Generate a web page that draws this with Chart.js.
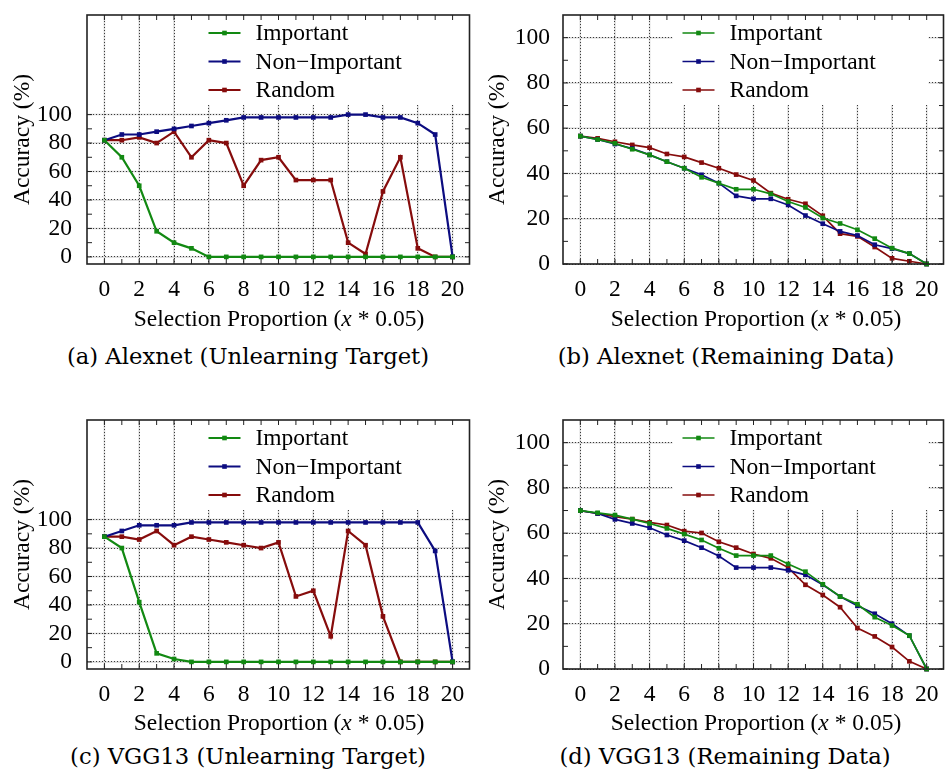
<!DOCTYPE html>
<html>
<head>
<meta charset="utf-8">
<script src="https://cdn.jsdelivr.net/npm/chart.js@4.4.0/dist/chart.umd.min.js"></script>
<style>
body{margin:0;background:#fff;}
#fig{position:relative;width:948px;height:774px;overflow:hidden;background:#fff;}
canvas{position:absolute;}
.xt{position:absolute;font-family:"Liberation Serif";font-size:23.5px;white-space:nowrap;transform:translate(-50%,-50%);color:#000;}
.cap{position:absolute;font-family:"DejaVu Serif";font-size:22.7px;white-space:nowrap;transform:translate(-50%,-50%);color:#000;}
</style>
</head>
<body>
<div id="fig">
<canvas id="ca" width="474" height="335" style="left:0;top:0"></canvas>
<canvas id="cb" width="474" height="335" style="left:474px;top:0"></canvas>
<canvas id="cc" width="474" height="335" style="left:0;top:405px"></canvas>
<canvas id="cd" width="474" height="335" style="left:474px;top:405px"></canvas>
<div class="xt" style="left:279px;top:318px">Selection Proportion (<i>x</i> * 0.05)</div>
<div class="xt" style="left:756px;top:318px">Selection Proportion (<i>x</i> * 0.05)</div>
<div class="xt" style="left:279px;top:722px">Selection Proportion (<i>x</i> * 0.05)</div>
<div class="xt" style="left:756px;top:722px">Selection Proportion (<i>x</i> * 0.05)</div>
<div class="cap" style="left:248px;top:356px">(a) Alexnet (Unlearning Target)</div>
<div class="cap" style="left:726px;top:356px">(b) Alexnet (Remaining Data)</div>
<div class="cap" style="left:248px;top:756px">(c) VGG13 (Unlearning Target)</div>
<div class="cap" style="left:725px;top:756px">(d) VGG13 (Remaining Data)</div>
</div>
<script>
// selection proportion steps
var xVals=[0,1,2,3,4,5,6,7,8,9,10,11,12,13,14,15,16,17,18,19,20];
var xTickVals=[0,2,4,6,8,10,12,14,16,18,20];
var yTickVals=[0,20,40,60,80,100];
var yMinorVals=[0,10,20,30,40,50,60,70,80,90,100];
var seriesLabels=["Important","Non\u2212Important","Random"];
var seriesColors=["#128912","#0c0c80","#860c0c"];

////////// (a) alexnet, unlearning target //////////
var alexTargetImp=[82,70,50,18,10,6,0,0,0,0,0,0,0,0,0,0,0,0,0,0,0];
var alexTargetNon=[82,86,86,88,90,92,94,96,98,98,98,98,98,98,100,100,98,98,94,86,0];
var alexTargetRand=[82,82,84,80,88,70,82,80,50,68,70,54,54,54,10,2,46,70,6,0,0];
////////// (b) alexnet, remaining data //////////
var alexRemainImp=[56.5,55,53.3,50.7,48.2,45.2,42.3,38.3,35.7,33,33,31,27.6,25,20.3,17.9,15.1,11.2,7,4.6,0];
var alexRemainNon=[56.5,55,53,51,48.2,45.2,42.3,39.4,35.7,30.1,28.8,28.8,26.1,21.4,17.8,14.4,12.6,8.5,6.8,4.6,0];
var alexRemainRand=[56.5,55.5,54,52.6,51.4,48.6,47.3,44.8,42.3,39.5,36.9,31.3,28.6,26.6,21.3,13.4,12.2,7.5,2.5,1.2,0];
////////// (c) vgg13, unlearning target //////////
var vggTargetImp=[88,80,42,6,2,0,0,0,0,0,0,0,0,0,0,0,0,0,0,0,0];
var vggTargetNon=[88,92,96,96,96,98,98,98,98,98,98,98,98,98,98,98,98,98,98,78,0];
var vggTargetRand=[88,88,86,92,82,88,86,84,82,80,84,46,50,18,92,82,32,0,0,0,0];
////////// (d) vgg13, remaining data //////////
var vggRemainImp=[70,69,68,66.2,64.3,62.1,59.6,57,53.3,50.1,50.1,50.1,46.4,43,37.4,32,28.6,22.9,19.2,14.8,0];
var vggRemainNon=[70,68.7,66.1,64.3,62.4,59.2,56.7,53.6,49.9,44.8,44.8,44.8,43.6,41.6,37.2,32,27.9,24.4,20,14.7,0];
var vggRemainRand=[70,68.7,67.3,66.2,64.8,63.6,60.9,60.1,56.2,53.6,50.8,48.9,44.8,37.2,32.7,27.3,18.1,14.4,9.7,3.4,0];

Chart.defaults.font.family="Liberation Serif";
Chart.defaults.font.size=23.5;
Chart.defaults.color="#000";

function seg(ctx,x1,y1,x2,y2){
  ctx.beginPath();ctx.moveTo(x1,y1);ctx.lineTo(x2,y2);ctx.stroke();
}

// frame, tick marks, gray under-grid and the boxed legend
var framePlugin={
  id:"frame",
  beforeDraw(chart){
    const ctx=chart.ctx,a=chart.chartArea,x=chart.scales.x,y=chart.scales.y;
    ctx.save();
    ctx.strokeStyle="#d6d6d6";ctx.lineWidth=1.5;
    xTickVals.forEach(v=>{const p=x.getPixelForValue(v);seg(ctx,p,a.top,p,a.bottom);});
    yTickVals.forEach(v=>{const p=y.getPixelForValue(v);seg(ctx,a.left,p,a.right,p);});
    ctx.restore();
  },
  beforeDatasetsDraw(chart){
    const ctx=chart.ctx,a=chart.chartArea;
    ctx.save();
    ctx.fillStyle="#fff";
    ctx.fillRect(a.right-15.5-256,a.top+1,256,89);
    ctx.restore();
  },
  afterDatasetsDraw(chart,args,opts){
    const ctx=chart.ctx,a=chart.chartArea,x=chart.scales.x,y=chart.scales.y;
    const bx=a.right-15.5-256;
    ctx.save();
    // legend
    chart.data.datasets.forEach((ds,i)=>{
      const ly=a.top+18+i*28.5;
      ctx.strokeStyle=ds.borderColor;ctx.lineWidth=opts.lw;
      seg(ctx,bx+10,ly,bx+42,ly);
      ctx.fillStyle=ds.borderColor;
      ctx.fillRect(bx+26-2.3,ly-2.3,4.6,4.6);
      ctx.fillStyle="#000";
      ctx.font="23.5px 'Liberation Serif'";
      ctx.textBaseline="middle";ctx.textAlign="left";
      ctx.fillText(ds.label,bx+57,ly+1);
    });
    // tick marks
    ctx.strokeStyle="#222";ctx.lineWidth=1;
    xVals.forEach(v=>{
      const p=x.getPixelForValue(v);
      seg(ctx,p,a.top,p,a.top+5);
      seg(ctx,p,a.bottom,p,a.bottom-5);
    });
    yMinorVals.forEach(v=>{
      const p=y.getPixelForValue(v);
      seg(ctx,a.left,p,a.left+5,p);
      seg(ctx,a.right,p,a.right-5,p);
    });
    ctx.lineWidth=1.6;
    ctx.strokeRect(a.left,a.top,a.right-a.left-0.5,a.bottom-a.top);
    ctx.restore();
  }
};

function noPad(s){
  s.paddingTop=0;s.paddingBottom=0;s.paddingLeft=0;s.paddingRight=0;
}

function makeChart(id,series,cfg){
  const ctx=document.getElementById(id);
  const datasets=series.map((arr,i)=>({
    label:seriesLabels[i],
    data:xVals.map((v,k)=>({x:v,y:arr[k]})),
    borderColor:seriesColors[i],
    backgroundColor:seriesColors[i],
    borderWidth:cfg.lw,
    pointStyle:"rect",
    pointRadius:3.3,
    pointBorderWidth:0,
    tension:0,
    clip:false
  }));
  return new Chart(ctx,{
    type:"line",
    data:{datasets:datasets},
    options:{
      responsive:false,
      animation:false,
      devicePixelRatio:1,
      layout:{padding:{left:0,top:15,right:cfg.padRight,bottom:0}},
      plugins:{legend:{display:false},tooltip:{enabled:false},frame:{lw:cfg.lw}},
      scales:{
        x:{
          type:"linear",min:-1,max:21,
          afterBuildTicks:s=>{s.ticks=xTickVals.map(v=>({value:v}));},
          afterFit:s=>{s.height=71;noPad(s);},
          ticks:{padding:12,callback:v=>String(v),maxRotation:0,autoSkip:false},
          grid:{color:"#3a3a3a",lineWidth:1,drawTicks:false},
          border:{display:false,dash:[1,2]}
        },
        y:{
          type:"linear",min:cfg.ymin,max:cfg.ymax,
          afterBuildTicks:s=>{s.ticks=yTickVals.map(v=>({value:v}));},
          afterFit:s=>{s.width=cfg.yWidth;noPad(s);},
          ticks:{padding:cfg.yPad,callback:v=>String(v)},
          grid:{color:"#3a3a3a",lineWidth:1,drawTicks:false},
          border:{display:false,dash:[1,2]},
          title:{display:true,text:"Accuracy (%)",padding:{top:cfg.tPad,bottom:0}}
        }
      }
    },
    plugins:[framePlugin]
  });
}

makeChart("ca",[alexTargetImp,alexTargetNon,alexTargetRand],{lw:2.2,ymin:-5,ymax:170,yWidth:87,yPad:15,padRight:2,tPad:9});
makeChart("cb",[alexRemainImp,alexRemainNon,alexRemainRand],{lw:1.7,ymin:0,ymax:110,yWidth:89,yPad:13,padRight:0,tPad:10});
makeChart("cc",[vggTargetImp,vggTargetNon,vggTargetRand],{lw:2.2,ymin:-5,ymax:170,yWidth:87,yPad:15,padRight:2,tPad:9});
makeChart("cd",[vggRemainImp,vggRemainNon,vggRemainRand],{lw:1.7,ymin:0,ymax:110,yWidth:89,yPad:13,padRight:0,tPad:10});
</script>
</body>
</html>
